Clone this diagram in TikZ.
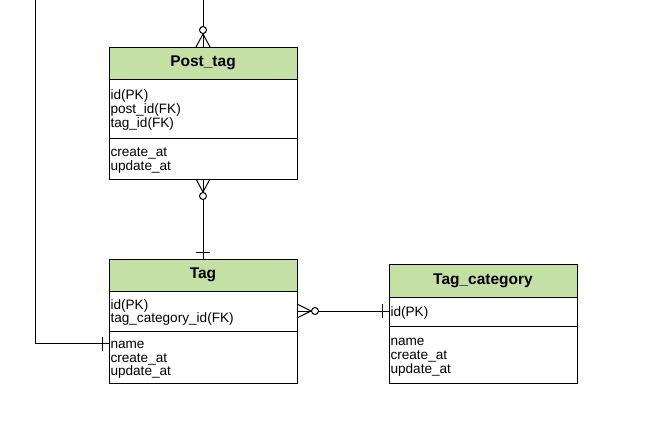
\documentclass[tikz,border=0pt]{standalone}
\usepackage{fontspec}
\setmainfont{Liberation Sans}
\definecolor{hdrgreen}{RGB}{197,224,165}
\tikzset{
  ent/.style={draw=black, line width=1pt, rectangle, minimum width=188pt, inner sep=0pt, outer sep=0pt, anchor=north west},
  hdr/.style={ent, fill=hdrgreen, font=\fontsize{15.5}{17}\selectfont\bfseries},
  sec/.style={ent, fill=white, text width=185pt, align=left, inner xsep=1.5pt, font=\fontsize{13.6}{13.7}\selectfont,
    execute at begin node={\rule{0pt}{13.5pt}}, execute at end node={\rule[-3.5pt]{0pt}{0pt}}},
  conn/.style={draw=black, line width=1pt},
  ring/.style={draw=black, line width=1pt, fill=white},
}
\begin{document}
\begin{tikzpicture}[x=1pt,y=-1pt]
\useasboundingbox[fill=white] (0,0) rectangle (672,429);

% free ends of connectors leaving the picture
\coordinate (top1) at (203,0);
\coordinate (top2) at (35,0);

% ---------- Post_tag ----------
\node[hdr, minimum height=32pt] (pt-h) at (109,47) {Post\_tag};
\node[sec, minimum height=59pt] (pt-a) at (pt-h.south west) {id(PK)\\post\_id(FK)\\tag\_id(FK)};
\node[sec, minimum height=41pt] (pt-b) at (pt-a.south west) {create\_at\\update\_at};

% ---------- Tag ----------
\node[hdr, minimum height=32pt] (t-h) at (109,259) {Tag};
\node[sec, minimum height=40pt] (t-a) at (t-h.south west) {id(PK)\\tag\_category\_id(FK)};
\node[sec, minimum height=52pt] (t-b) at (t-a.south west) {name\\create\_at\\update\_at};

% ---------- Tag_category ----------
\node[hdr, minimum height=33pt] (tc-h) at (389,264) {Tag\_category};
\node[sec, minimum height=29pt] (tc-a) at (tc-h.south west) {id(PK)};
\node[sec, minimum height=57pt] (tc-b) at (tc-a.south west) {name\\create\_at\\update\_at};

% ---------- connector: top -> Post_tag (zero or many) ----------
\draw[conn] (top1) -- (pt-h.north);
\draw[conn] ([xshift=-7pt]pt-h.north) -- ([yshift=13pt]pt-h.north) -- ([xshift=7pt]pt-h.north);
\draw[ring] ([yshift=17pt]pt-h.north) circle (3.5pt);

% ---------- connector: Post_tag -> Tag ----------
\draw[conn] (pt-b.south) -- (t-h.north);
\draw[conn] ([xshift=-7pt]pt-b.south) -- ([yshift=-13pt]pt-b.south) -- ([xshift=7pt]pt-b.south);
\draw[ring] ([yshift=-17pt]pt-b.south) circle (3.5pt);
\draw[conn] ([xshift=-7pt,yshift=7pt]t-h.north) -- ([xshift=7pt,yshift=7pt]t-h.north);

% ---------- connector: Tag -> Tag_category ----------
\draw[conn] (t-a.east) -- (t-a.east -| tc-a.west);
\draw[conn] ([yshift=7pt]t-a.east) -- ([xshift=14pt]t-a.east) -- ([yshift=-7pt]t-a.east);
\draw[ring] ([xshift=18pt]t-a.east) circle (3.5pt);
\draw[conn] ([xshift=-7pt,yshift=7pt]t-a.east -| tc-a.west) -- ([xshift=-7pt,yshift=-7pt]t-a.east -| tc-a.west);

% ---------- connector: left line -> Tag ----------
\coordinate (tl) at ([yshift=-12.5pt]t-b.north west);
\draw[conn] (top2) |- (tl);
\draw[conn] ([xshift=-7pt,yshift=7pt]tl) -- ([xshift=-7pt,yshift=-7pt]tl);
\end{tikzpicture}
\end{document}
